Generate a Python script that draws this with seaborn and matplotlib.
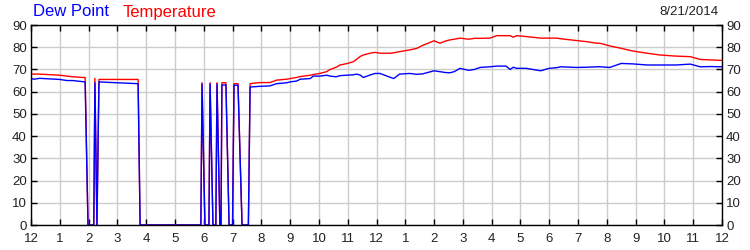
import matplotlib
matplotlib.use("Agg")
import matplotlib.pyplot as plt
import seaborn as sns
import pandas as pd

# ---- data (hours since midnight, readings in deg F) ----
hours = [0.0, 0.1, 0.3, 1.0, 1.25, 1.45, 1.8, 1.88, 1.98, 2.18, 2.22, 2.29, 2.36, 3.0, 3.72, 3.79,
         5.90, 5.94, 6.04, 6.18, 6.22, 6.32, 6.42, 6.46, 6.56, 6.60, 6.63, 6.77, 6.88, 7.0, 7.05, 7.19,
         7.33, 7.55, 7.61, 7.95, 8.3, 8.53, 8.88, 9.0, 9.23, 9.35, 9.7, 9.8, 10.03, 10.27, 10.39, 10.6,
         10.73, 10.96, 11.2, 11.3, 11.43, 11.54, 11.78, 11.95, 12.12, 12.47, 12.6, 12.8, 13.16, 13.4,
         13.6, 14.0, 14.2, 14.4, 14.55, 14.7, 14.9, 15.2, 15.4, 15.6, 15.94, 16.17, 16.5, 16.64, 16.75,
         16.87, 17.2, 17.7, 18.0, 18.26, 18.4, 18.95, 19.3, 19.65, 19.76, 20.1, 20.5, 20.9, 21.4,
         21.85, 22.4, 22.9, 23.24, 23.6, 23.93, 24.0]
temperature = [68.0, 67.9, 67.9, 67.4, 67.0, 66.7, 66.4, 66.4, 0, 0, 66.0, 0, 65.5, 65.5, 65.5, 0,
               0, 64.0, 0, 0, 64.0, 0, 0, 64.0, 0, 0, 64.0, 64.0, 0, 0, 63.6, 63.6,
               0, 0, 63.6, 64.1, 64.1, 65.2, 65.6, 65.9, 66.4, 66.8, 67.4, 67.7, 68.2, 69.0, 70.0, 71.0,
               72.0, 72.6, 73.5, 74.5, 75.8, 76.5, 77.3, 77.7, 77.3, 77.3, 77.5, 78.0, 78.8, 79.5,
               80.8, 82.9, 81.8, 82.8, 83.3, 83.6, 84.1, 83.6, 84.0, 84.0, 84.1, 85.2, 85.2, 85.2, 84.5,
               85.2, 84.8, 84.1, 84.1, 84.1, 83.8, 83.0, 82.5, 81.8, 81.8, 80.6, 79.5, 78.3, 77.3,
               76.5, 76.0, 75.75, 74.5, 74.3, 74.1, 74.1]
dew_point = [66.0, 65.6, 66.0, 65.5, 65.0, 65.0, 64.5, 64.4, 0, 0, 64.0, 0, 64.4, 64.0, 63.6, 0,
             0, 63.5, 0, 0, 63.5, 0, 0, 63.5, 0, 0, 63.0, 63.0, 0, 0, 62.9, 62.9,
             0, 0, 62.1, 62.4, 62.6, 63.6, 64.0, 64.4, 64.8, 65.6, 65.9, 67.0, 67.0, 67.4, 67.0, 66.7,
             67.2, 67.4, 67.6, 67.9, 67.5, 66.4, 67.5, 68.2, 68.2, 66.5, 65.9, 67.9, 68.2, 67.8,
             68.0, 69.4, 69.0, 68.6, 68.5, 69.0, 70.5, 69.6, 70.0, 70.9, 71.2, 71.5, 71.5, 70.0, 71.0,
             70.5, 70.5, 69.4, 70.5, 70.8, 71.2, 70.9, 71.0, 71.2, 71.2, 70.9, 72.7, 72.5, 72.0,
             72.0, 72.0, 72.4, 71.2, 71.3, 71.2, 71.2]

tick_labels = ["12", "1", "2", "3", "4", "5", "6", "7", "8", "9", "10", "11",
               "12", "1", "2", "3", "4", "5", "6", "7", "8", "9", "10", "11", "12"]
y_ticks = [0, 10, 20, 30, 40, 50, 60, 70, 80, 90]
date_text = "8/21/2014"

df = pd.DataFrame({"hour": hours, "Temperature": temperature, "Dew Point": dew_point})

sns.set_theme(style="white")
plt.rcParams["font.family"] = ["Liberation Sans", "DejaVu Sans"]

fig = plt.figure(figsize=(7.5, 2.5), dpi=100)
ax = fig.add_axes([31 / 750, 25 / 250, 691 / 750, 200 / 250])

sns.lineplot(data=df, x="hour", y="Temperature", ax=ax, color="#ff0000", lw=1.0, estimator=None, sort=False)
sns.lineplot(data=df, x="hour", y="Dew Point", ax=ax, color="#0000ff", lw=1.0, estimator=None, sort=False)

ax.set_xlim(0, 24)
ax.set_ylim(0, 90)
ax.set_xticks(range(25))
ax.set_xticklabels(tick_labels, fontsize=9.5, color="#222222")
ax.set_yticks(y_ticks)
ax.set_yticklabels([str(v) for v in y_ticks], fontsize=9.5, color="#222222")
ax.set_xlabel("")
ax.set_ylabel("")

ax.grid(True, color="#cccccc", lw=1.0)
ax.set_axisbelow(True)
for s in ax.spines.values():
    s.set_visible(True)
    s.set_color("black")
    s.set_linewidth(1.0)

ax.tick_params(axis="both", which="both", direction="in", length=4, width=1, color="black",
               top=True, right=True, left=True, bottom=True,
               labelright=True, labelleft=True, pad=3)
ax.tick_params(axis="x", pad=6)

fig.text(33 / 750, 1 - 12 / 250, "Dew Point", color="#0000ff", fontsize=12, va="center", ha="left")
fig.text(123 / 750, 1 - 12 / 250, "Temperature", color="#ff0000", fontsize=12, va="center", ha="left")
fig.text(718 / 750, 1 - 12 / 250, date_text, color="#222222", fontsize=9.5, va="center", ha="right")

fig.savefig("out.png", dpi=100)
